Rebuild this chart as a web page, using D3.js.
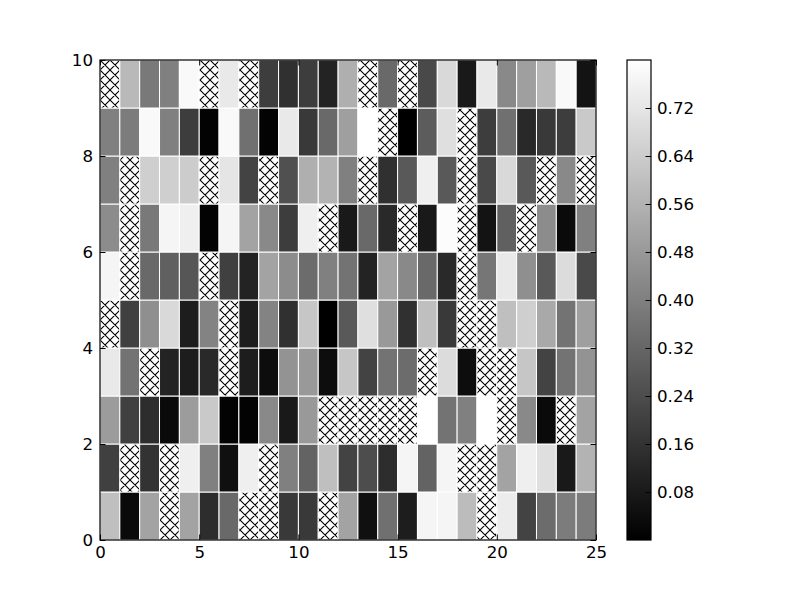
<!DOCTYPE html>
<html><head><meta charset="utf-8">
<script src="https://cdn.jsdelivr.net/npm/d3@7/dist/d3.min.js"></script>
<style>body{margin:0;background:#fff}svg{display:block}text{font-family:"DejaVu Sans",sans-serif;}</style>
</head><body><svg id="c" width="800" height="600"></svg>
<script>
// values per row (row0 = bottom, y 0..1); null = masked (hatched)
const row0 = [0.60,0.03,0.51,null,0.51,0.14,0.33,null,null,0.18,0.18,null,0.51,0.05,0.35,0.09,0.77,0.77,0.59,null,0.74,0.21,0.34,0.39,0.39];
const row1 = [0.20,null,0.16,null,0.75,0.40,0.05,0.75,null,0.40,0.31,0.60,0.21,0.24,0.14,0.77,0.31,0.77,null,null,0.51,0.75,0.70,0.08,0.56];
const row2 = [0.49,0.20,0.14,0.03,0.49,0.63,0.01,0.01,0.43,0.08,0.48,null,null,null,null,null,0.80,0.36,0.40,0.80,null,0.43,0.03,null,0.51];
const row3 = [0.73,0.36,null,0.11,0.09,0.13,null,0.09,0.04,0.46,0.48,0.04,0.62,0.21,0.36,0.34,null,0.69,0.04,null,null,0.62,0.21,0.36,0.46];
const row4 = [null,0.20,0.45,0.68,0.09,0.41,null,0.09,0.41,0.15,0.62,0.00,0.28,0.70,0.48,0.15,0.60,0.18,null,null,0.60,0.65,0.53,0.36,0.50];
const row5 = [0.77,null,0.33,0.30,0.27,null,0.20,0.11,0.51,0.44,0.34,0.40,0.36,0.11,0.51,0.43,0.33,0.13,null,0.37,0.73,0.45,0.28,0.69,0.23];
const row6 = [0.44,null,0.38,0.77,0.75,0.01,0.77,0.51,0.43,0.19,0.75,null,0.08,0.33,0.13,null,0.08,0.79,null,0.06,0.30,null,0.44,0.03,0.40];
const row7 = [0.40,null,0.65,0.65,0.64,null,0.72,0.21,null,0.25,0.55,0.56,0.40,null,0.15,0.28,0.75,0.28,null,0.23,0.68,0.28,null,0.43,null];
const row8 = [0.40,0.39,0.78,0.40,0.19,0.01,0.78,0.35,0.01,0.73,0.18,0.33,0.50,0.80,null,0.00,0.29,0.70,null,0.19,0.35,0.13,0.18,0.19,0.63];
const row9 = [null,0.58,0.38,0.40,0.78,null,0.73,null,0.19,0.15,0.19,0.11,0.55,null,0.33,null,0.23,0.68,0.08,0.73,0.43,0.50,0.58,0.78,0.06];
const rows = [row0,row1,row2,row3,row4,row5,row6,row7,row8,row9];
const xTicks = [0,5,10,15,20,25];
const yTicks = [0,2,4,6,8,10];
const cbTicks = [0.08,0.16,0.24,0.32,0.40,0.48,0.56,0.64,0.72];
const vMin = 0.0, vMax = 0.8;

const svg = d3.select("#c");
const x = d3.scaleLinear().domain([0,25]).range([100,596]);
const y = d3.scaleLinear().domain([0,10]).range([540,60]);
const color = d3.scaleLinear().domain([vMin,vMax]).range(["#000000","#ffffff"]);

const defs = svg.append("defs");
const pat = defs.append("pattern").attr("id","hatch").attr("patternUnits","userSpaceOnUse")
  .attr("width",10).attr("height",10);
pat.append("rect").attr("width",10).attr("height",10).attr("fill","#fff");
pat.append("path").attr("d","M0,0L10,10M10,0L0,10M-1,9L1,11M9,-1L11,1M-1,1L1,-1M9,11L11,9")
  .attr("stroke","#000").attr("stroke-width",1.1);

const cells = [];
rows.forEach((r,j)=>r.forEach((v,i)=>cells.push({i,j,v})));
svg.append("g").selectAll("rect").data(cells).join("rect")
  .attr("x",d=>x(d.i)).attr("y",d=>y(d.j+1))
  .attr("width",d=>x(d.i+1)-x(d.i)).attr("height",d=>y(d.j)-y(d.j+1))
  .attr("fill",d=>d.v===null?"url(#hatch)":color(d.v))
  .attr("stroke","#fff").attr("stroke-width",1);

const fs = "16.67px";
const gx = svg.append("g").attr("transform","translate(0,540)")
  .call(d3.axisBottom(x).tickValues(xTicks).tickSize(-5.5).tickPadding(6).tickFormat(d3.format("d")));
const gxt = svg.append("g").attr("transform","translate(0,60)")
  .call(d3.axisTop(x).tickValues(xTicks).tickSize(-5.5).tickFormat(""));
const gy = svg.append("g").attr("transform","translate(100,0)")
  .call(d3.axisLeft(y).tickValues(yTicks).tickSize(-5.5).tickPadding(7).tickFormat(d3.format("d")));
const gyr = svg.append("g").attr("transform","translate(596,0)")
  .call(d3.axisRight(y).tickValues(yTicks).tickSize(-5.5).tickFormat(""));
[gx,gxt,gy,gyr].forEach(g=>{
  g.select(".domain").remove();
  g.selectAll("line").attr("stroke","#000").attr("stroke-width",1);
  g.selectAll("text").attr("font-size",fs).attr("fill","#000").attr("font-family","DejaVu Sans");
});
svg.append("rect").attr("x",100).attr("y",60).attr("width",496).attr("height",480)
  .attr("fill","none").attr("stroke","#000").attr("stroke-width",1.2);

// colorbar
const cb = d3.scaleLinear().domain([vMin,vMax]).range([540,60]);
const grad = defs.append("linearGradient").attr("id","cbg").attr("x1",0).attr("y1",1).attr("x2",0).attr("y2",0);
grad.append("stop").attr("offset",0).attr("stop-color",color(vMin));
grad.append("stop").attr("offset",1).attr("stop-color",color(vMax));
svg.append("rect").attr("x",627).attr("y",60).attr("width",24).attr("height",480).attr("fill","url(#cbg)");
const gc = svg.append("g").attr("transform","translate(651,0)")
  .call(d3.axisRight(cb).tickValues(cbTicks).tickSize(-5.5).tickPadding(6).tickFormat(d3.format(".2f")));
gc.select(".domain").remove();
gc.selectAll("line").attr("stroke","#000").attr("stroke-width",1);
gc.selectAll("text").attr("font-size",fs).attr("fill","#000").attr("font-family","DejaVu Sans");
svg.append("rect").attr("x",627).attr("y",60).attr("width",24).attr("height",480)
  .attr("fill","none").attr("stroke","#000").attr("stroke-width",1.2);
</script></body></html>
